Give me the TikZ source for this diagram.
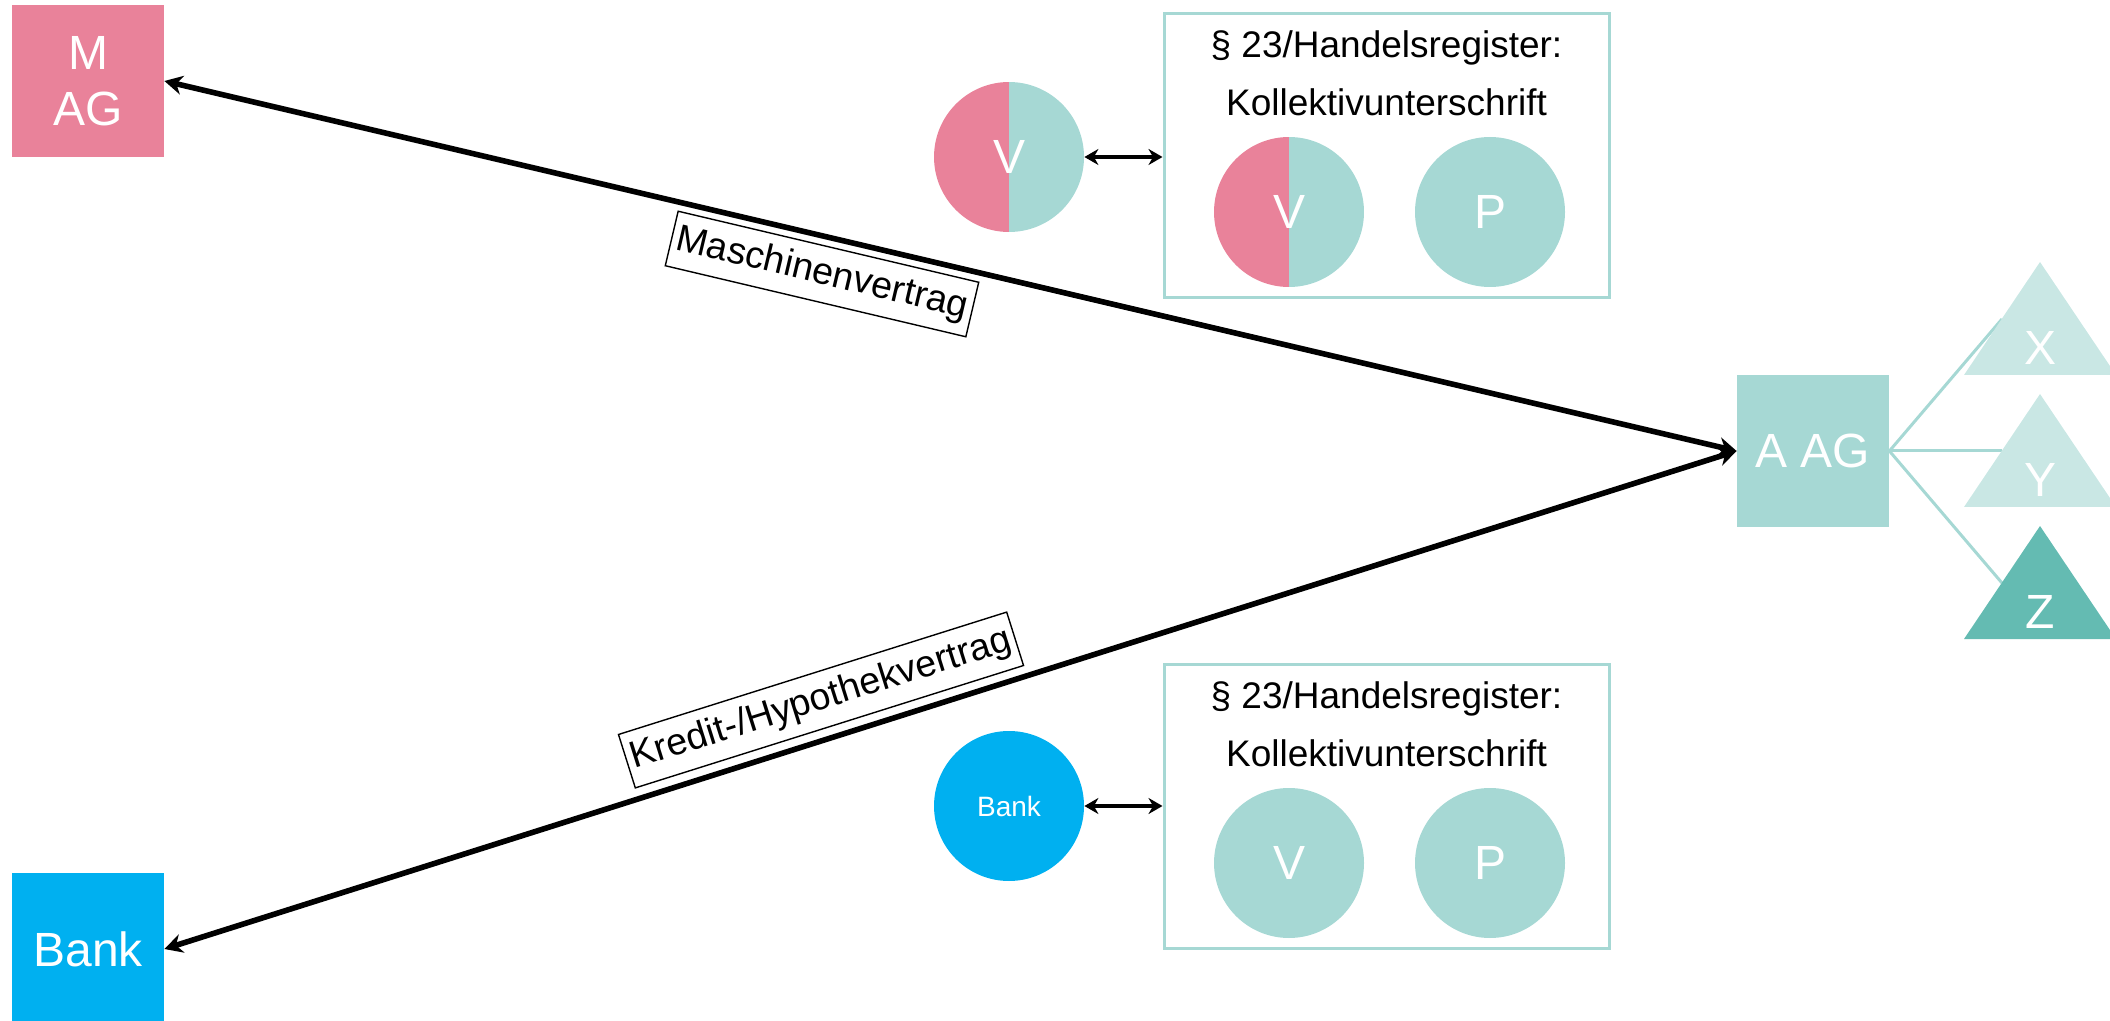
\documentclass[tikz,border=0pt]{standalone}
\usepackage{fontspec}
\setmainfont{Liberation Sans}
\usetikzlibrary{arrows.meta}
\definecolor{pinkc}{HTML}{E9829A}
\definecolor{tealc}{HTML}{A6D8D4}
\definecolor{tealx}{HTML}{C9E7E4}
\definecolor{tealz}{HTML}{64BBB2}
\definecolor{bluec}{HTML}{00B0F0}
\tikzset{
  sqbox/.style={minimum width=76pt, minimum height=76pt, inner sep=0pt, text=white,
    font=\fontsize{24}{28}\selectfont, align=center},
  disc/.style={circle, minimum size=75pt, inner sep=0pt, text=white,
    font=\fontsize{24}{28}\selectfont},
  halfdisc/.style={disc, path picture={
    \fill[pinkc] (path picture bounding box.south west) rectangle (path picture bounding box.north);
    \fill[tealc] (path picture bounding box.south) rectangle (path picture bounding box.north east);}},
  regbox/.style={draw=tealc, line width=1.5pt, minimum width=222.5pt, minimum height=142pt, inner sep=0pt},
  regtitle/.style={font=\fontsize{18.5}{22}\selectfont, anchor=base},
  mainarrow/.style={line width=2.8pt, {Stealth[length=9pt,width=9.5pt]}-{Stealth[length=9pt,width=9.5pt]}},
  smallarrow/.style={line width=2pt, {Stealth[length=7pt,width=8pt]}-{Stealth[length=7pt,width=8pt]}},
  contract/.style={draw, line width=0.7pt, font=\fontsize{18.8}{22}\selectfont, inner xsep=2.5pt,
    inner ysep=0pt, minimum height=28pt},
  branch/.style={draw=tealc, line width=1.5pt},
  trilabel/.style={text=white, font=\fontsize{24}{28}\selectfont, inner sep=0pt}
}
\begin{document}
\begin{tikzpicture}[x=0.5pt, y=-0.5pt]
\path[use as bounding box] (0,0) rectangle (2110,1021);
\clip (0,0) rectangle (2110,1021);

% parties
\node[sqbox, fill=pinkc] (mag) at (88,81) {M\\AG};
\node[sqbox, fill=bluec] (bank) at (88,949) {Bank};
\node[sqbox, fill=tealc] (aag) at (1813,451) {A AG};

% subsidiaries
\coordinate (xl) at (2002,319);
\coordinate (yl) at (2002,451);
\coordinate (zl) at (2002,583);
\draw[branch] (aag.east) -- (xl);
\draw[branch] (aag.east) -- (yl);
\draw[branch] (aag.east) -- (zl);
\fill[tealx] (1964,375) -- (2040,262) -- (2116,375) -- cycle;
\fill[tealx] (1964,507) -- (2040,394) -- (2116,507) -- cycle;
\fill[tealz] (1964,639) -- (2040,526) -- (2116,639) -- cycle;
\node[trilabel] (tx) at (2040,348) {X};
\node[trilabel] (ty) at (2040,480) {Y};
\node[trilabel] (tz) at (2040,612) {Z};

% contracts
\draw[mainarrow] (mag.east) -- (aag.west);
\draw[mainarrow] (bank.east) -- (aag.west);
\node[contract, rotate=-13.3] (lm) at (822,274) {Maschinenvertrag};
\node[contract, rotate=17.5] (lk) at (821,700) {Kredit-/Hypothekvertrag};

% upper register box
\node[halfdisc] (v1) at (1009,157) {V};
\node[regbox] (box1) at (1386.5,156) {};
\node[regtitle] (t1a) at (1386.5,58) {§ 23/Handelsregister:};
\node[regtitle] (t1b) at (1386.5,116) {Kollektivunterschrift};
\node[halfdisc] (v2) at (1289,212) {V};
\node[disc, fill=tealc] (p1) at (1490,212) {P};
\draw[smallarrow] (v1.east) -- (box1.west |- v1.east);

% lower register box
\node[disc, fill=bluec, font=\fontsize{14}{16}\selectfont] (bc) at (1009,806) {Bank};
\node[regbox] (box2) at (1386.5,806) {};
\node[regtitle] (t2a) at (1386.5,708) {§ 23/Handelsregister:};
\node[regtitle] (t2b) at (1386.5,766) {Kollektivunterschrift};
\node[disc, fill=tealc] (v3) at (1289,863) {V};
\node[disc, fill=tealc] (p2) at (1490,863) {P};
\draw[smallarrow] (bc.east) -- (box2.west |- bc.east);
\end{tikzpicture}
\end{document}
